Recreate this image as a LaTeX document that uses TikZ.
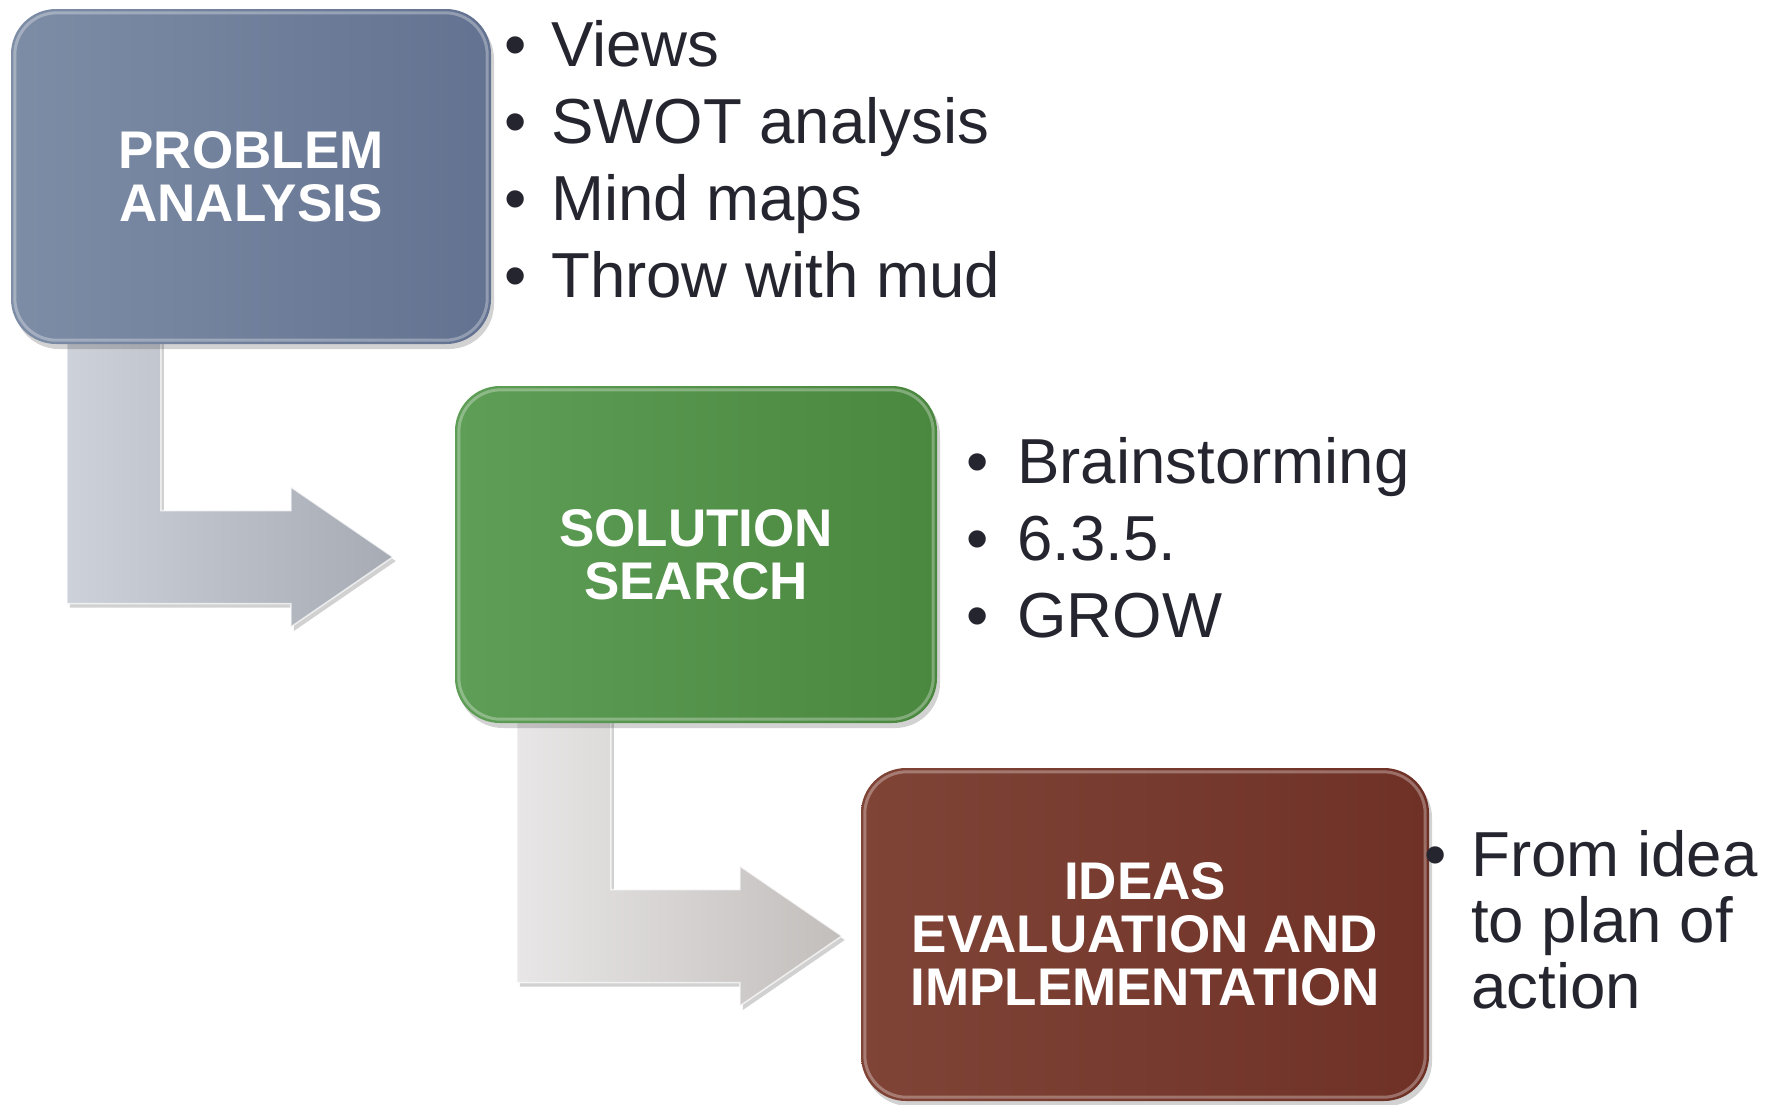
\documentclass[tikz,border=0pt]{standalone}
\usepackage{fontspec}
\setmainfont{Liberation Sans}
\usetikzlibrary{shadows,calc}

\definecolor{blueL}{HTML}{7E8DA6}
\definecolor{blueR}{HTML}{627290}
\definecolor{greenL}{HTML}{5E9E56}
\definecolor{greenR}{HTML}{4A873F}
\definecolor{redL}{HTML}{804437}
\definecolor{redR}{HTML}{6F3126}
\definecolor{arrAL}{HTML}{CDD1D9}
\definecolor{arrAR}{HTML}{A6ABB4}
\definecolor{arrBL}{HTML}{E8E6E6}
\definecolor{arrBR}{HTML}{C2BEBC}
\definecolor{ink}{HTML}{25252F}

\tikzset{
  stagebox/.style={rounded corners=45pt, inner sep=0pt, align=center,
    text=white, font=\fontsize{53}{53}\selectfont\bfseries,
    drop shadow={shadow xshift=3pt, shadow yshift=-5pt, opacity=0.25, fill=black!70}},
  bevel/.style={draw=white, draw opacity=0.3, line width=3pt, rounded corners=42pt},
  bulletmark/.style={anchor=base, inner sep=0pt, text=ink, font=\fontsize{63.6}{63.6}\selectfont},
  itemtext/.style={anchor=base west, inner sep=0pt, text=ink, align=left,
    font=\fontsize{63.6}{66}\selectfont},
  bentarrow/.style={draw=white, draw opacity=0.7, line width=1.5pt,
    drop shadow={shadow xshift=3pt, shadow yshift=-4pt, opacity=0.3, fill=black!60}},
}

% bent block arrow from stem top-left #1 to tip #2
\newcommand{\bentblock}[3]{%
  \shade[bentarrow,#3] let \p1=#1, \p2=#2 in
    (\x1,\y1) -- (\x1+94pt,\y1) -- (\x1+94pt,\y2+46.5pt) -- (\x2-102pt,\y2+46.5pt)
    -- (\x2-102pt,\y2+70pt) -- (\x2,\y2) -- (\x2-102pt,\y2-70pt)
    -- (\x2-102pt,\y2-46.5pt) -- (\x1,\y2-46.5pt) -- cycle;}

\begin{document}
\begin{tikzpicture}[x=1pt,y=-1pt]
\useasboundingbox (0,0) rectangle (1771,1104);

% stage boxes (positions first so the arrows can refer to them)
\path (251,176.5) coordinate (pac);
\path (696,554.5) coordinate (ssc);
\path (1145,934.5) coordinate (iec);
\node[minimum width=480pt, minimum height=335pt, inner sep=0pt] (paref) at (pac) {};
\node[minimum width=482pt, minimum height=337pt, inner sep=0pt] (ssref) at (ssc) {};
\node[minimum width=568pt, minimum height=333pt, inner sep=0pt] (ieref) at (iec) {};

% connecting bent arrows, drawn under the boxes
\bentblock{($(paref.south west)+(56,-14)$)}{($(ssref.west)+(-62,2.5)$)}{left color=arrAL, right color=arrAR}
\bentblock{($(ssref.south west)+(62,-14)$)}{($(ieref.west)+(-19,1.5)$)}{left color=arrBL, right color=arrBR}

% boxes
\node[stagebox, left color=blueL, right color=blueR,
      minimum width=480pt, minimum height=335pt] (pa) at (pac)
      {PROBLEM\\ANALYSIS};
\node[stagebox, left color=greenL, right color=greenR,
      minimum width=482pt, minimum height=337pt] (ss) at (ssc)
      {SOLUTION\\SEARCH};
\node[stagebox, left color=redL, right color=redR,
      minimum width=568pt, minimum height=333pt] (ie) at (iec)
      {IDEAS\\EVALUATION AND\\IMPLEMENTATION};
\foreach \b in {pa,ss,ie}
  \draw[bevel] ($(\b.north west)+(4,4)$) rectangle ($(\b.south east)+(-4,-4)$);

% bullet lists
\foreach \y/\t [count=\i] in {66/Views,143/SWOT analysis,220/Mind maps,297/Throw with mud}{
  \node[bulletmark] (pab\i) at (516,\y) {•};
  \node[itemtext] (pat\i) at (551,\y) {\t};
}
\foreach \y/\t [count=\i] in {483/Brainstorming,560/6.3.5.,637/GROW}{
  \node[bulletmark] (ssb\i) at (978,\y) {•};
  \node[itemtext] (sst\i) at (1017,\y) {\t};
}
% three-line item: the node's base is its last line
\node[bulletmark] (ieb1) at (1436,876) {•};
\node[itemtext] (iet1) at (1471,1008) {From idea\\to plan of\\action};
\end{tikzpicture}
\end{document}
